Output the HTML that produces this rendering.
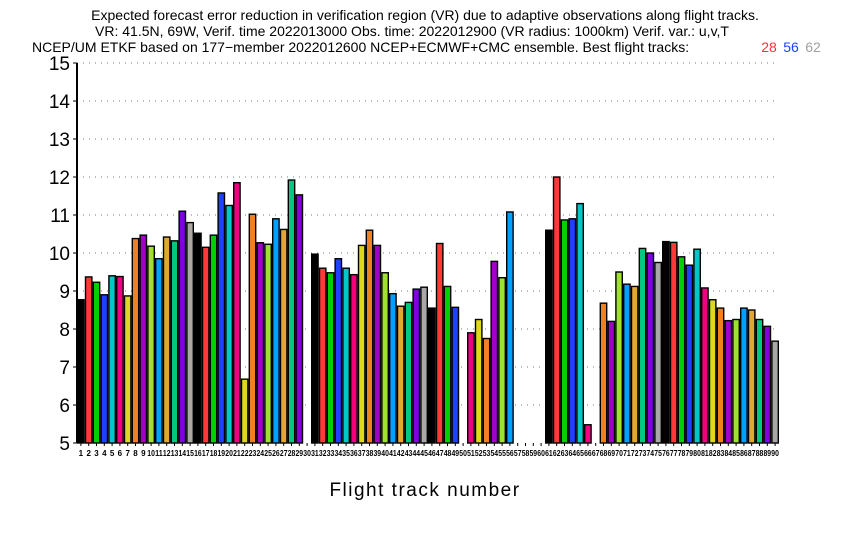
<!DOCTYPE html>
<html><head><meta charset="utf-8"><style>
body{margin:0;background:#fff;}
svg{display:block;font-family:"Liberation Sans",sans-serif;}
</style></head><body>
<svg id="chart" width="850" height="540">
<g font-size="14" text-anchor="middle" fill="#000">
<text x="425" y="20">Expected forecast error reduction in verification region (VR) due to adaptive observations along flight tracks.</text>
<text x="412" y="36">VR: 41.5N, 69W, Verif. time 2022013000 Obs. time: 2022012900 (VR radius: 1000km)  Verif. var.: u,v,T</text>
<text x="32" y="52" text-anchor="start">NCEP/UM ETKF based on 177−member 2022012600 NCEP+ECMWF+CMC ensemble. Best flight tracks:</text>
<text x="769" y="52" fill="#ff3030">28</text>
<text x="791" y="52" fill="#2040ff">56</text>
<text x="813" y="52" fill="#a0a0a0">62</text>
</g>
<g id="grid"></g>
<g id="bars"></g>
<g id="axes"></g>
<text x="425" y="496" font-size="19" text-anchor="middle" letter-spacing="1.5">Flight track number</text>
</svg>
<script>
const trackValues = [8.77,9.37,9.23,8.9,9.4,9.38,8.87,10.38,10.47,10.18,9.85,10.42,10.32,11.1,10.8,
10.52,10.15,10.47,11.58,11.25,11.85,6.68,11.02,10.27,10.23,10.9,10.62,11.92,11.53,null,
9.97,9.6,9.48,9.85,9.6,9.43,10.2,10.6,10.2,9.48,8.93,8.6,8.7,9.05,9.1,
8.55,10.25,9.12,8.57,null,7.9,8.25,7.75,9.78,9.35,11.08,null,null,null,null,
10.6,12.0,10.87,10.9,11.3,5.48,null,8.68,8.2,9.5,9.18,9.12,10.12,10.0,9.75,
10.3,10.28,9.9,9.68,10.1,9.08,8.77,8.55,8.22,8.25,8.55,8.5,8.25,8.07,7.68];
const yTicks = [5,6,7,8,9,10,11,12,13,14,15];
const colors = ['#000000','#ff3838','#00d000','#2040ff','#00c8c8','#f00080','#e0d820','#f08020','#a000c8','#a0e030','#00a0ff','#e0a830','#00c880','#8000e0','#a8a8a8'];
const NS='http://www.w3.org/2000/svg';
const x0=77, pitch=7.8, yMin=5, yMax=15, yTop=63, yBot=443;
function yScale(v){return yBot-(v-yMin)/(yMax-yMin)*(yBot-yTop);}
function xScale(i){return x0+i*pitch;}
const grid=document.getElementById('grid'), bars=document.getElementById('bars'), axes=document.getElementById('axes');
yTicks.forEach(t=>{
  const y=yScale(t);
  if(t>yMin){const g=document.createElementNS(NS,'line');
  
  
  g.setAttribute('x1',x0);g.setAttribute('x2',776);g.setAttribute('y1',y);g.setAttribute('y2',y);
  g.setAttribute('stroke','#777');g.setAttribute('stroke-width','1');g.setAttribute('stroke-dasharray','1 5');grid.appendChild(g);}
  const tk=document.createElementNS(NS,'line');
  
  
  tk.setAttribute('x1',x0-4);tk.setAttribute('x2',x0);tk.setAttribute('y1',y);tk.setAttribute('y2',y);tk.setAttribute('stroke','#000');axes.appendChild(tk);
  const lb=document.createElementNS(NS,'text');
  
  
  lb.setAttribute('x',x0-7);lb.setAttribute('y',y+7);lb.setAttribute('text-anchor','end');lb.setAttribute('font-size','19');lb.textContent=t;axes.appendChild(lb);
});
const ax=document.createElementNS(NS,'line');


ax.setAttribute('x1',x0);ax.setAttribute('x2',x0);ax.setAttribute('y1',yTop);ax.setAttribute('y2',yBot);ax.setAttribute('stroke','#000');ax.setAttribute('stroke-width','2');axes.appendChild(ax);
trackValues.forEach((v,i)=>{
  const x=xScale(i);
  const tk=document.createElementNS(NS,'line');
  
  
  tk.setAttribute('x1',x+pitch/2);tk.setAttribute('x2',x+pitch/2);tk.setAttribute('y1',yBot);tk.setAttribute('y2',yBot+3);tk.setAttribute('stroke','#000');axes.appendChild(tk);
  const lb=document.createElementNS(NS,'text');
  
  
  lb.setAttribute('x',x+pitch/2);lb.setAttribute('y',yBot+13);lb.setAttribute('text-anchor','middle');lb.setAttribute('font-size','8');lb.setAttribute('font-weight','bold');
  if(i+1>=10){lb.setAttribute('textLength','7.6');lb.setAttribute('lengthAdjust','spacingAndGlyphs');}
  lb.textContent=i+1;axes.appendChild(lb);
  if(v===null)return;
  const r=document.createElementNS(NS,'rect');
  
  
  const y=yScale(v);
  r.setAttribute('x',x+0.7);r.setAttribute('width',pitch-1.4);r.setAttribute('y',y);r.setAttribute('height',yBot-y);
  r.setAttribute('fill',colors[i%15]);r.setAttribute('stroke','#000');r.setAttribute('stroke-width','1.4');
  bars.appendChild(r);
});
</script>
</body></html>
